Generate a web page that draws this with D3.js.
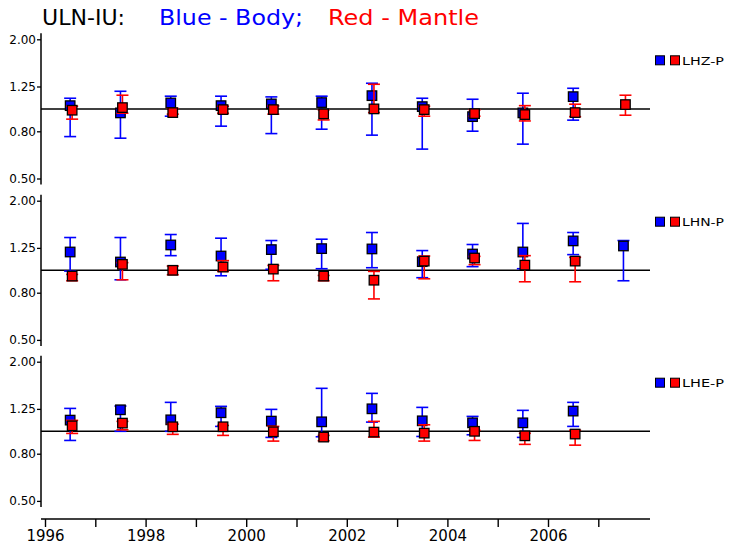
<!DOCTYPE html>
<html><head><meta charset="utf-8">
<script src="https://cdn.jsdelivr.net/npm/d3@7"></script>
<style>body{margin:0;background:#fff}svg{display:block}</style>
</head><body>
<script>
const years = [1996.5,1997.5,1998.5,1999.5,2000.5,2001.5,2002.5,2003.5,2004.5,2005.5,2006.5,2007.5];
const channels = ["LHZ-P","LHN-P","LHE-P"];
const yTicks = [0.5,0.8,1.25,2.0];
const xTicks = [1996,1997,1998,1999,2000,2001,2002,2003,2004,2005,2006,2007];
const xLabels = ["1996","","1998","","2000","","2002","","2004","","2006",""];

// LHZ-P
const zBody    = [1.033,0.961,1.061,1.033,1.051,1.065,1.141,1.023,0.926,0.961,1.130,null];
const zBodyHi  = [1.112,1.192,1.135,1.135,1.127,1.135,1.291,1.112,1.101,1.169,1.228,null];
const zBodyLo  = [0.759,0.747,0.930,0.842,0.782,0.817,0.770,0.670,0.801,0.704,0.894,null];
const zMant    = [0.987,1.013,0.964,0.993,0.993,0.952,1.000,0.993,0.954,0.945,0.964,1.044];
const zMantHi  = [1.027,1.146,1.003,1.027,1.030,0.990,1.278,1.027,0.990,1.033,1.048,1.146];
const zMantLo  = [0.903,0.958,0.949,0.958,0.949,0.896,0.964,0.930,0.930,0.887,0.926,0.939];
// LHN-P
const nBody    = [1.200,1.086,1.287,1.153,1.229,1.241,1.237,1.090,1.176,1.200,1.340,1.274];
const nBodyHi  = [1.386,1.386,1.428,1.377,1.345,1.363,1.457,1.217,1.293,1.595,1.457,1.345];
const nBodyLo  = [0.992,0.910,1.157,0.947,1.010,1.016,1.026,0.929,1.037,1.016,1.169,0.901];
const nMant    = [0.944,1.061,1.000,1.033,1.012,0.944,0.906,1.096,1.130,1.053,1.096,null];
const nMantHi  = [0.960,1.079,1.043,1.101,1.050,0.950,0.989,1.153,1.149,1.157,1.138,null];
const nMantLo  = [0.901,0.910,0.957,0.989,0.901,0.901,0.752,0.919,1.058,0.892,0.892,null];
// LHE-P
const eBody    = [1.118,1.239,1.121,1.203,1.107,1.099,1.251,1.110,1.088,1.088,1.223,null];
const eBodyHi  = [1.256,1.286,1.334,1.282,1.244,1.534,1.459,1.269,1.160,1.232,1.334,null];
const eBodyLo  = [0.913,1.000,1.000,1.050,0.941,0.947,1.096,0.950,0.966,0.941,1.050,null];
const eMant    = [1.056,1.085,1.046,1.046,0.995,0.944,0.992,0.982,1.000,0.956,0.973,null];
const eMantHi  = [1.115,1.104,1.074,1.060,1.050,0.960,1.104,1.067,1.010,0.980,1.010,null];
const eMantLo  = [0.979,1.015,0.970,0.960,0.907,0.910,0.944,0.907,0.913,0.878,0.871,null];

const panelsData = [
  {name:channels[0], body:zBody, bodyHi:zBodyHi, bodyLo:zBodyLo, mant:zMant, mantHi:zMantHi, mantLo:zMantLo},
  {name:channels[1], body:nBody, bodyHi:nBodyHi, bodyLo:nBodyLo, mant:nMant, mantHi:nMantHi, mantLo:nMantLo},
  {name:channels[2], body:eBody, bodyHi:eBodyHi, bodyLo:eBodyLo, mant:eMant, mantHi:eMantHi, mantLo:eMantLo}
];

const W=733,H=551;
const svg=d3.select("body").append("svg").attr("width",W).attr("height",H);
svg.append("rect").attr("width",W).attr("height",H).attr("fill","#fff");

const x=d3.scaleLinear().domain([1996,2007]).range([45,598.3]);
const axisLeftX=41, axisRightX=650;
const panelTops=[39.3,200.7,361.7], panelH=139.2;
const BLUE="#0000ff", RED="#ff0000";
const SQ=9.5, CAP=6, REDOFF=2;

// Title
const title=svg.append("g").attr("font-family","DejaVu Sans, sans-serif").attr("font-size",21);
title.append("text").attr("x",42).attr("y",25).attr("fill","#000").attr("textLength",83).attr("lengthAdjust","spacingAndGlyphs").text("ULN-IU:");
title.append("text").attr("x",159).attr("y",25).attr("fill",BLUE).attr("textLength",144).attr("lengthAdjust","spacingAndGlyphs").text("Blue  -  Body;");
title.append("text").attr("x",328).attr("y",25).attr("fill",RED).attr("textLength",151).attr("lengthAdjust","spacingAndGlyphs").text("Red  -  Mantle");

panelsData.forEach((p,i)=>{
  const top=panelTops[i];
  const y=d3.scaleLog().domain([0.5,2]).range([top+panelH,top]);
  const g=svg.append("g");
  // y axis
  const ax=g.append("g").attr("transform",`translate(${axisLeftX},0)`)
    .call(d3.axisLeft(y).tickValues(yTicks).tickFormat(d3.format(".2f")).tickSize(4).tickSizeOuter(0));
  ax.select(".domain").remove();
  ax.selectAll(".tick line").attr("stroke","#000").attr("stroke-width",1.3);
  ax.selectAll(".tick text").attr("font-family","DejaVu Sans, sans-serif").attr("font-size",12).attr("fill","#000").attr("x",-5);
  g.append("line").attr("x1",axisLeftX).attr("x2",axisLeftX).attr("y1",top-6).attr("y2",top+panelH+6)
    .attr("stroke","#000").attr("stroke-width",1.5);
  // reference line at 1
  g.append("line").attr("x1",axisLeftX).attr("x2",axisRightX).attr("y1",y(1)).attr("y2",y(1))
    .attr("stroke","#000").attr("stroke-width",1.5);

  function series(vals,hi,lo,color,off){
    years.forEach((yr,k)=>{
      if(vals[k]==null) return;
      const cx=x(yr)+off;
      const eg=g.append("g").attr("stroke",color).attr("stroke-width",1.6);
      eg.append("line").attr("x1",cx).attr("x2",cx).attr("y1",y(hi[k])).attr("y2",y(lo[k]));
      eg.append("line").attr("x1",cx-CAP).attr("x2",cx+CAP).attr("y1",y(hi[k])).attr("y2",y(hi[k]));
      eg.append("line").attr("x1",cx-CAP).attr("x2",cx+CAP).attr("y1",y(lo[k])).attr("y2",y(lo[k]));
      g.append("rect").attr("x",cx-SQ/2).attr("y",y(vals[k])-SQ/2).attr("width",SQ).attr("height",SQ)
        .attr("fill",color).attr("stroke","#000").attr("stroke-width",1.3);
    });
  }
  series(p.body,p.bodyHi,p.bodyLo,BLUE,0);
  series(p.mant,p.mantHi,p.mantLo,RED,REDOFF);

  // legend
  const ly=top+21;
  g.append("rect").attr("x",655.5).attr("y",ly-4.5).attr("width",9).attr("height",9).attr("fill",BLUE).attr("stroke","#000").attr("stroke-width",1);
  g.append("rect").attr("x",670.5).attr("y",ly-4.5).attr("width",9).attr("height",9).attr("fill",RED).attr("stroke","#000").attr("stroke-width",1);
  g.append("text").attr("x",682).attr("y",ly+4.5).attr("font-family","DejaVu Sans, sans-serif").attr("font-size",11)
    .attr("fill","#000").attr("textLength",42).attr("lengthAdjust","spacingAndGlyphs").text(p.name);
});

// x axis
const xAxisY=519;
const xa=svg.append("g").attr("transform",`translate(0,${xAxisY})`)
  .call(d3.axisBottom(x).tickValues(xTicks).tickFormat((d,i)=>xLabels[i]).tickSize(8).tickSizeOuter(0));
xa.select(".domain").remove();
xa.selectAll(".tick line").attr("stroke","#000").attr("stroke-width",1.4);
xa.selectAll(".tick text").attr("font-family","DejaVu Sans, sans-serif").attr("font-size",15).attr("fill","#000").attr("y",11);
svg.append("line").attr("x1",axisLeftX).attr("x2",axisRightX).attr("y1",xAxisY).attr("y2",xAxisY).attr("stroke","#000").attr("stroke-width",1.5);
</script>
</body></html>
